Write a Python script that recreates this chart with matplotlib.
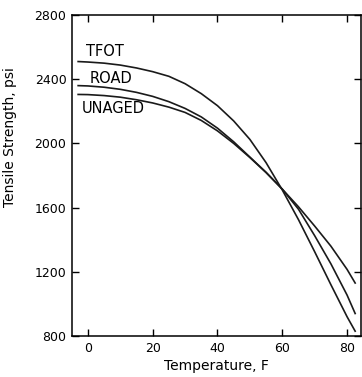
import matplotlib
matplotlib.use("Agg")
import matplotlib.pyplot as plt

temps = [-3, 0, 5, 10, 15, 20, 25, 30, 35, 40, 45, 50, 55, 60, 65, 70, 75, 80, 82.5]
tfot = [2510, 2507, 2500, 2488, 2470, 2447, 2418, 2372, 2310, 2235, 2140, 2025, 1880, 1710, 1525, 1325, 1120, 920, 830]
road = [2360, 2358, 2350, 2337, 2318, 2293, 2260, 2218, 2165, 2095, 2010, 1915, 1820, 1715, 1590, 1425, 1250, 1055, 940]
unaged = [2305, 2304, 2298, 2288, 2272, 2252, 2226, 2193, 2143, 2078, 2000, 1912, 1818, 1715, 1605, 1485, 1360, 1215, 1130]

xticks = [0, 20, 40, 60, 80]
yticks = [800, 1200, 1600, 2000, 2400, 2800]

fig = plt.figure(figsize=(3.62, 3.77), dpi=100)
ax = fig.add_axes([72/362, 1-336/377, 289/362, 321/377])
for s in (tfot, road, unaged):
    ax.plot(temps, s, color="#1a1a1a", lw=1.2)
ax.set_xlim(-4.9, 84.3)
ax.set_ylim(800, 2800)
ax.set_xticks(xticks)
ax.set_yticks(yticks)
ax.tick_params(direction="in", top=True, right=True, length=5, width=1, labelsize=9, pad=4)
for sp in ax.spines.values():
    sp.set_linewidth(1.1)
ax.set_xlabel("Temperature, F", fontsize=10, va="center")
ax.xaxis.set_label_coords(0.5, -0.094)
ax.set_ylabel("Tensile Strength, psi", fontsize=10, va="center")
ax.yaxis.set_label_coords(-0.215, 0.62)
ax.text(5.2, 2570, "TFOT", fontsize=10.5, va="center", ha="center")
ax.text(7.1, 2403, "ROAD", fontsize=10.5, va="center", ha="center")
ax.text(7.7, 2218, "UNAGED", fontsize=10.5, va="center", ha="center")
fig.savefig("out.png", dpi=100)
